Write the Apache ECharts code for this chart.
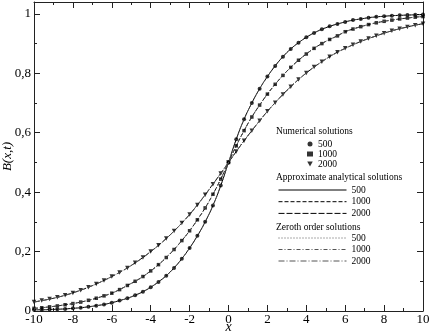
<!DOCTYPE html>
<html>
<head>
<meta charset="utf-8">
<script src="https://cdn.jsdelivr.net/npm/echarts@6.0.0/dist/echarts.min.js"></script>
<style>
  html, body { margin: 0; padding: 0; background: #fff; }
  #chart { width: 430px; height: 333px; }
</style>
</head>
<body>
<div id="chart"></div>
<script>
// x positions of the computed points
var xs = [-10, -9.6, -9.2, -8.8, -8.4, -8, -7.6, -7.2, -6.8, -6.4, -6, -5.6, -5.2, -4.8, -4.4, -4, -3.6, -3.2, -2.8, -2.4, -2, -1.6, -1.2, -0.8, -0.4,
  0, 0.4, 0.8, 1.2, 1.6, 2, 2.4, 2.8, 3.2, 3.6, 4, 4.4, 4.8, 5.2, 5.6, 6, 6.4, 6.8, 7.2, 7.6, 8, 8.4, 8.8, 9.2, 9.6, 10];

// numerical solutions B(x,t)
var num500 = [0.004, 0.004, 0.005, 0.006, 0.007, 0.009, 0.011, 0.014, 0.018, 0.022, 0.028, 0.035, 0.043, 0.053, 0.065, 0.080, 0.098, 0.119, 0.145, 0.176, 0.212, 0.253, 0.300, 0.355, 0.422,
  0.500, 0.578, 0.645, 0.700, 0.748, 0.789, 0.825, 0.856, 0.882, 0.903, 0.921, 0.936, 0.948, 0.958, 0.966, 0.973, 0.979, 0.983, 0.987, 0.990, 0.992, 0.994, 0.995, 0.996, 0.997, 0.998];
var num1000 = [0.009, 0.011, 0.014, 0.017, 0.021, 0.025, 0.030, 0.036, 0.043, 0.051, 0.060, 0.072, 0.086, 0.100, 0.116, 0.135, 0.156, 0.180, 0.207, 0.237, 0.270, 0.307, 0.347, 0.393, 0.444,
  0.500, 0.556, 0.607, 0.653, 0.693, 0.730, 0.763, 0.793, 0.820, 0.844, 0.865, 0.884, 0.900, 0.914, 0.926, 0.940, 0.949, 0.957, 0.964, 0.970, 0.975, 0.979, 0.983, 0.986, 0.989, 0.991];
var num2000 = [0.030, 0.035, 0.040, 0.046, 0.053, 0.061, 0.070, 0.080, 0.091, 0.103, 0.116, 0.130, 0.145, 0.162, 0.180, 0.200, 0.221, 0.244, 0.269, 0.296, 0.325, 0.357, 0.391, 0.427, 0.463,
  0.500, 0.537, 0.573, 0.607, 0.640, 0.672, 0.701, 0.729, 0.755, 0.779, 0.801, 0.821, 0.839, 0.856, 0.871, 0.884, 0.896, 0.907, 0.917, 0.926, 0.935, 0.943, 0.950, 0.956, 0.962, 0.967];

// the analytical curves lie on top of the numerical points at this scale
var approx500 = num500, approx1000 = num1000, approx2000 = num2000;
var zeroth500 = num500, zeroth1000 = num1000, zeroth2000 = num2000;

var times = ["500", "1000", "2000"];

function pairs(ys) {
  return xs.map(function (x, i) { return [x, ys[i]]; });
}

var serif = "Liberation Serif";
var chart = echarts.init(document.getElementById("chart"), null, { renderer: "canvas" });

// axisIdx 1 = mirrored top/right axes (same scale), so they get drawn too
function lineSeries(name, ys, dash, color, axisIdx) {
  return {
    name: name,
    type: "line",
    xAxisIndex: axisIdx,
    yAxisIndex: axisIdx,
    data: pairs(ys),
    smooth: true,
    symbol: "none",
    silent: true,
    animation: false,
    lineStyle: { color: color, width: 1, type: dash },
    itemStyle: { color: color }
  };
}

function pointSeries(name, ys, symbol, size) {
  return {
    name: name,
    type: "scatter",
    data: pairs(ys),
    symbol: symbol,
    symbolSize: size,
    animation: false,
    itemStyle: { color: "#000" }
  };
}

var downTri = "path://M0,0 L10,0 L5,9 Z";

function sectionTitle(text, top) {
  return {
    text: text,
    left: 276,
    top: top,
    padding: 0,
    textStyle: { fontFamily: serif, fontSize: 9.5, fontWeight: "normal", color: "#000", lineHeight: 12 }
  };
}

function legendBox(prefix, extra) {
  var box = {
    orient: "vertical",
    padding: 0,
    selectedMode: false,
    formatter: function (n) { return n.split(" ")[1]; },
    textStyle: { fontFamily: serif, fontSize: 9.5, color: "#000", lineHeight: 10 },
    data: times.map(function (t) { return prefix + " " + t; })
  };
  return Object.assign(box, extra);
}

// fresh objects for every axis: inward ticks, mirrored frame
function frameAxis(extra) {
  var ax = {
    type: "value",
    nameMoveOverlap: false,
    axisLine: { show: true, onZero: false, lineStyle: { color: "#222", width: 1 } },
    axisTick: { show: true, inside: true, length: 6, lineStyle: { color: "#222" } },
    minorTick: { show: true, splitNumber: 2, length: 3, lineStyle: { color: "#222" } },
    splitLine: { show: false }
  };
  return Object.assign(ax, extra);
}

chart.setOption({
  backgroundColor: "#fff",
  animation: false,
  title: [
    sectionTitle("Numerical solutions", 125),
    sectionTitle("Approximate analytical solutions", 171),
    sectionTitle("Zeroth order solutions", 221)
  ],
  legend: [
    legendBox("Numerical", { left: 307, top: 139, itemWidth: 6, itemHeight: 5, itemGap: 0 }),
    legendBox("Approximate", {
      left: 278, top: 185, itemWidth: 68, itemHeight: 8, itemGap: 1.7,
      itemStyle: { opacity: 0 }, lineStyle: { width: 1 }
    }),
    legendBox("Zeroth", {
      left: 278, top: 233, itemWidth: 68, itemHeight: 8, itemGap: 1.5,
      itemStyle: { opacity: 0 }, lineStyle: { width: 1 }
    })
  ],
  grid: { left: 34, right: 7, top: 2, bottom: 22, outerBoundsMode: "none" },
  xAxis: [
    frameAxis({
      min: -10, max: 10, interval: 2, position: "bottom",
      name: "x", nameLocation: "middle", nameGap: 9,
      nameTextStyle: { fontFamily: serif, fontStyle: "italic", fontSize: 14, color: "#000" },
      axisLabel: { margin: 2, fontFamily: serif, fontSize: 13, color: "#000" }
    }),
    frameAxis({
      min: -10, max: 10, interval: 2, position: "top",
      axisLabel: { show: false }
    })
  ],
  yAxis: [
    frameAxis({
      min: 0, max: 1.04, interval: 0.2, position: "left",
      name: "B(x,t)", nameLocation: "middle", nameGap: 20, nameRotate: 90,
      nameTextStyle: { fontFamily: serif, fontStyle: "italic", fontSize: 13, color: "#000" },
      axisLabel: {
        margin: 3, fontFamily: serif, fontSize: 13, color: "#000", showMaxLabel: false,
        formatter: function (v) { return String(+v.toFixed(1)).replace(".", ","); }
      }
    }),
    frameAxis({
      min: 0, max: 1.04, interval: 0.2, position: "right",
      axisLabel: { show: false }
    })
  ],
  series: [
    lineSeries("Approximate 500", approx500, "solid", "#000", 0),
    lineSeries("Approximate 1000", approx1000, [4, 2], "#000", 0),
    lineSeries("Approximate 2000", approx2000, [6, 2], "#000", 0),
    lineSeries("Zeroth 500", zeroth500, [1, 2], "#555", 1),
    lineSeries("Zeroth 1000", zeroth1000, [4, 2, 1, 2], "#555", 1),
    lineSeries("Zeroth 2000", zeroth2000, [6, 2, 1, 2], "#555", 1),
    pointSeries("Numerical 500", num500, "circle", 4),
    pointSeries("Numerical 1000", num1000, "rect", 3.5),
    pointSeries("Numerical 2000", num2000, downTri, 4.5)
  ]
});
</script>
</body>
</html>
